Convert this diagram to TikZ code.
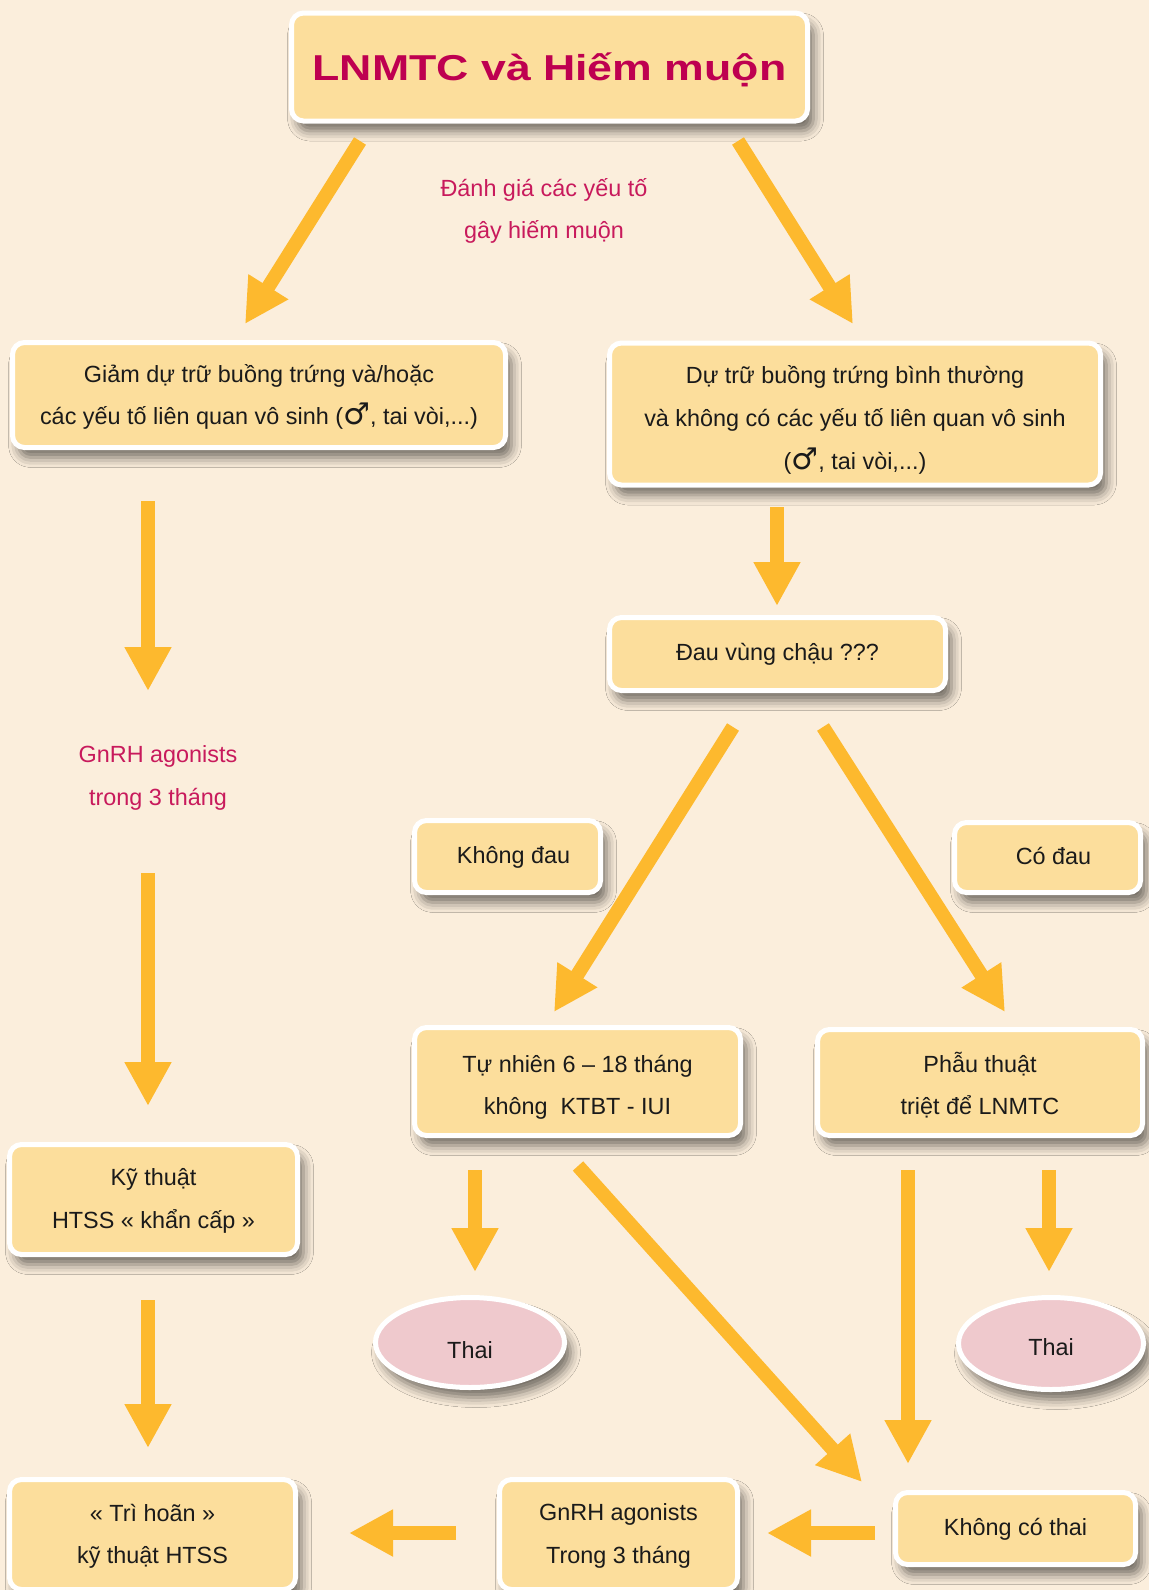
\documentclass[tikz,border=0pt]{standalone}
\usepackage{fontspec}
\setmainfont{Liberation Sans}
\newfontfamily\symf{DejaVu Sans}
\usepackage{graphicx}
\usetikzlibrary{arrows.meta,shapes.geometric,shadows.blur}
\definecolor{bgc}{HTML}{FBEEDC}
\definecolor{boxc}{HTML}{FCDE9C}
\definecolor{arrowc}{HTML}{FDB92E}
\definecolor{titlec}{HTML}{BE0050}
\definecolor{redc}{HTML}{C81A5C}
\definecolor{pinkc}{HTML}{EFC9CD}
\definecolor{txtc}{HTML}{1A1A1A}
\newcommand{\bodyfnt}{\fontsize{11.7}{21.3}\selectfont}
\newcommand{\ttlfnt}{\fontsize{18}{18}\selectfont\bfseries}
\newcommand{\male}{{\symf\fontsize{15}{15}\selectfont ♂}}
\newcommand{\fl}[1]{\rule{0pt}{#1pt}}
\newcommand{\lst}{\rule[-6.5pt]{0pt}{0pt}}
\newcommand{\sg}{\rule[-4pt]{0pt}{14.5pt}}
\begin{document}
\begin{tikzpicture}[x=0.5pt,y=-0.5pt,
  shad/.style={blur shadow={shadow xshift=3pt,shadow yshift=-5pt,shadow blur radius=5pt,shadow opacity=55}},
  box/.style={shad,draw=white,line width=2.5pt,fill=boxc,rounded corners=6pt,
    align=center,inner sep=0pt,font=\bodyfnt,text=txtc},
  oval/.style={shad,ellipse,draw=white,line width=2.5pt,fill=pinkc,
    inner sep=0pt,font=\bodyfnt,text=txtc},
  redtext/.style={align=center,inner sep=0pt,font=\bodyfnt,text=redc},
  bigarrow/.style={draw=arrowc,line width=7pt,-{Triangle[width=22pt,length=22pt]}}]
\fill[bgc] (0,0) rectangle (1149,1590);
\useasboundingbox (0,0) rectangle (1149,1590);

% nodes
\node[box,minimum width=258pt,minimum height=54pt,
  execute at begin node={\rule{0pt}{18pt}},execute at end node={\rule[-4.5pt]{0pt}{4.5pt}}] (title) at (549.5,67)
  {\scalebox{1.24}[1]{\ttlfnt\color{titlec}LNMTC và Hiếm muộn}};
\node[redtext] (danhgia) at (544,210) {\fl{14}Đánh giá các yếu tố\\gây hiếm muộn\lst};
\node[box,minimum width=246.5pt,minimum height=52.5pt] (giam) at (259,395)
  {\fl{15}Giảm dự trữ buồng trứng và/hoặc\\các yếu tố liên quan vô sinh (\male, tai vòi,...)\lst};
\node[box,minimum width=245.5pt,minimum height=71pt] (dutru) at (855,414)
  {\fl{19}Dự trữ buồng trứng bình thường\\và không có các yếu tố liên quan vô sinh\\(\male, tai vòi,...)\lst};
\node[box,minimum width=168pt,minimum height=36.5pt] (dau) at (777.5,654) {\sg Đau vùng chậu ???};
\node[redtext] (gnrhred) at (158,776) {\fl{14.5}GnRH agonists\\trong 3 tháng\lst};
\node[box,minimum width=93pt,minimum height=36pt] (khongdau) at (507.5,856.5) {\hspace{6pt}\sg Không đau};
\node[box,minimum width=93pt,minimum height=35pt] (codau) at (1047.5,857.5) {\hspace{6pt}\sg Có đau};
\node[box,minimum width=163pt,minimum height=54pt] (tunhien) at (577.5,1081.5)
  {\fl{18.3}Tự nhiên 6 – 18 tháng\\không\ \ KTBT - IUI\lst};
\node[box,minimum width=162.5pt,minimum height=53pt] (phauthuat) at (980,1082.5)
  {\fl{17.3}Phẫu thuật\\triệt để LNMTC\lst};
\node[box,minimum width=144pt,minimum height=55pt] (kythuat) at (153.5,1199.5)
  {\fl{13.8}Kỹ thuật\\HTSS « khẩn cấp »\lst};
\node[oval,minimum width=94.5pt,minimum height=45pt] (thaiL) at (470,1342.5) {\rule[-0.5pt]{0pt}{17pt}Thai};
\node[oval,minimum width=92.5pt,minimum height=46pt] (thaiR) at (1051,1343.5) {\rule[-0.5pt]{0pt}{13pt}Thai};
\node[box,minimum width=143pt,minimum height=55pt] (trihoan) at (152.5,1534.5)
  {\fl{14.3}« Trì hoãn »\\kỹ thuật HTSS\lst};
\node[box,minimum width=119pt,minimum height=55pt] (gnrhbox) at (618.5,1534.5)
  {\fl{13.8}GnRH agonists\\Trong 3 tháng\lst};
\node[box,minimum width=120pt,minimum height=36pt] (khongcothai) at (1015.5,1528.5) {\sg Không có thai};

% arrow end points
\coordinate (a1s) at (360,141);  \coordinate (a1e) at (245,324);
\coordinate (a2s) at (738,141);  \coordinate (a2e) at (853,324);
\coordinate (a3s) at (148,501);  \coordinate (a3e) at (148,691);
\coordinate (a4s) at (777,507);  \coordinate (a4e) at (777,606);
\coordinate (a5s) at (733,727);  \coordinate (a5e) at (554,1012);
\coordinate (a6s) at (823,727);  \coordinate (a6e) at (1005,1012);
\coordinate (a7s) at (148,873);  \coordinate (a7e) at (148,1106);
\coordinate (a8s) at (475,1170); \coordinate (a8e) at (475,1272);
\coordinate (a9s) at (578,1166); \coordinate (a9e) at (862,1482);
\coordinate (a10s) at (908,1170); \coordinate (a10e) at (908,1464);
\coordinate (a11s) at (1049,1170); \coordinate (a11e) at (1049,1272);
\coordinate (a12s) at (148,1300); \coordinate (a12e) at (148,1448);
\coordinate (a13s) at (875,1533); \coordinate (a13e) at (767,1533);
\coordinate (a14s) at (456,1533); \coordinate (a14e) at (349,1533);

\foreach \i in {1,...,14} {\draw[bigarrow] (a\i s) -- (a\i e);}
\end{tikzpicture}
\end{document}
